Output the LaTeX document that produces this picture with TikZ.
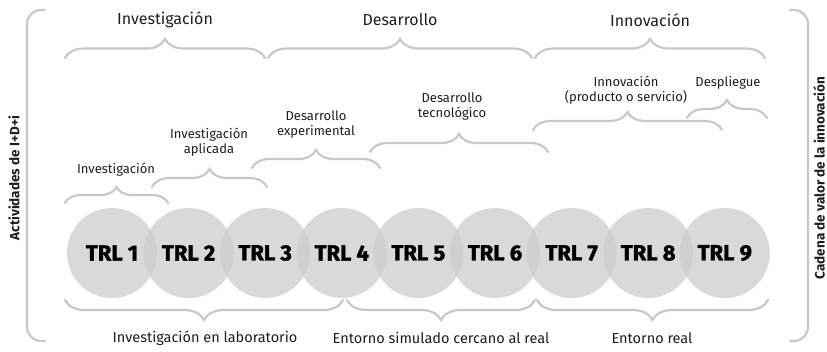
\documentclass[tikz,border=0pt]{standalone}
\usepackage{fontspec}
\setmainfont{Fira Sans}
\newfontfamily\trlfont{Fira Sans}[FakeBold=1.6]
\usepackage{tikz}
\usetikzlibrary{decorations.pathreplacing,positioning}
\definecolor{BraceGray}{HTML}{C8C8C8}
\definecolor{TrlGray}{HTML}{CBCBCB}
\definecolor{LabelBlack}{HTML}{1E1E1E}

\begin{document}
\begin{tikzpicture}[
  x=1pt, y=-1pt,
  trl/.style={circle, fill=TrlGray, fill opacity=0.73, text opacity=1, minimum size=90pt, inner sep=0pt, font=\fontsize{22}{24}\trlfont\bfseries},
  upbrace/.style={decorate, decoration={brace, amplitude=#1}, draw=BraceGray, line width=2.2pt, line cap=round},
  upbrace/.default=18pt,
  downbrace/.style={decorate, decoration={brace, mirror, amplitude=20pt}, draw=BraceGray, line width=2.2pt, line cap=round},
  sidebar/.style={draw=BraceGray, line width=2.2pt, rounded corners=14pt, line cap=round},
  headlabel/.style={font=\fontsize{16}{18}\selectfont, text=LabelBlack},
  sublabel/.style={font=\fontsize{13}{15}\selectfont, align=center, text=LabelBlack, inner sep=1pt},
  envlabel/.style={font=\fontsize{14.5}{16}\selectfont, text=LabelBlack},
  sidelabel/.style={font=\fontsize{13.5}{15}\selectfont\bfseries, rotate=90, text=LabelBlack}
]
\useasboundingbox (0,0) rectangle (827,351);

% Side brackets
\coordinate (ltop) at (45,10);
\coordinate (lbot) at (45,341);
\coordinate (rtop) at (790,10);
\coordinate (rbot) at (790,341);
\draw[sidebar] (ltop) -- ++(-18,0) |- (lbot);
\draw[sidebar] (rtop) -- ++(18,0) |- (rbot);
\node[sidelabel] (idi) at (14,178) {Actividades de I+D+i};
\node[sidelabel] (cadena) at (819,178) {Cadena de valor de la innovación};

% TRL circles
\foreach \i in {1,...,9}
  \node[trl] (trl\i) at ({112+76.6*(\i-1)},253) {TRL \i};

% Level 1: Investigación, Desarrollo, Innovación
\coordinate (invA) at (65,58);
\coordinate (invB) at (265,58);
\coordinate (desA) at (268,58);
\coordinate (desB) at (532,58);
\coordinate (innA) at (535,58);
\coordinate (innB) at (765,58);
\draw[upbrace=19pt] (invA) -- (invB);
\draw[upbrace=19pt] (desA) -- (desB);
\draw[upbrace=19pt] (innA) -- (innB);
\node[headlabel] (inv) at (165,20) {Investigación};
\node[headlabel] (des) at (400,20) {Desarrollo};
\node[headlabel] (inn) at (650,20) {Innovación};

% Level 2: steps above the circles
\coordinate (basA) at (65,203);
\coordinate (basB) at (168,203);
\coordinate (aplA) at (152,187);
\coordinate (aplB) at (267,187);
\coordinate (expA) at (252,168);
\coordinate (expB) at (380,168);
\coordinate (tecA) at (370,152);
\coordinate (tecB) at (548,152);
\coordinate (proA) at (533,130);
\coordinate (proB) at (722,130);
\coordinate (depA) at (687,118);
\coordinate (depB) at (767,118);
\draw[upbrace=16pt] (basA) -- (basB);
\draw[upbrace] (aplA) -- (aplB);
\draw[upbrace] (expA) -- (expB);
\draw[upbrace] (tecA) -- (tecB);
\draw[upbrace] (proA) -- (proB);
\draw[upbrace] (depA) -- (depB);
\node[sublabel] (bas) at (116,170) {Investigación};
\node[sublabel] (apl) at (209,142) {Investigación\\aplicada};
\node[sublabel] (exp) at (316,125) {Desarrollo\\experimental};
\node[sublabel] (tec) at (452,107) {Desarrollo\\tecnológico};
\node[sublabel] (pro) at (626,90) {Innovación\\(producto o servicio)};
\node[sublabel] (dep) at (728,83) {Despliegue};

% Level 3: environments below the circles
\coordinate (labA) at (65,300);
\coordinate (labB) at (343,300);
\coordinate (simA) at (347,300);
\coordinate (simB) at (535,300);
\coordinate (reaA) at (537,300);
\coordinate (reaB) at (768,300);
\draw[downbrace] (labA) -- (labB);
\draw[downbrace] (simA) -- (simB);
\draw[downbrace] (reaA) -- (reaB);
\node[envlabel] (lab) at (205,338) {Investigación en laboratorio};
\node[envlabel] (sim) at (441,338) {Entorno simulado cercano al real};
\node[envlabel] (rea) at (652,338) {Entorno real};

\end{tikzpicture}
\end{document}
